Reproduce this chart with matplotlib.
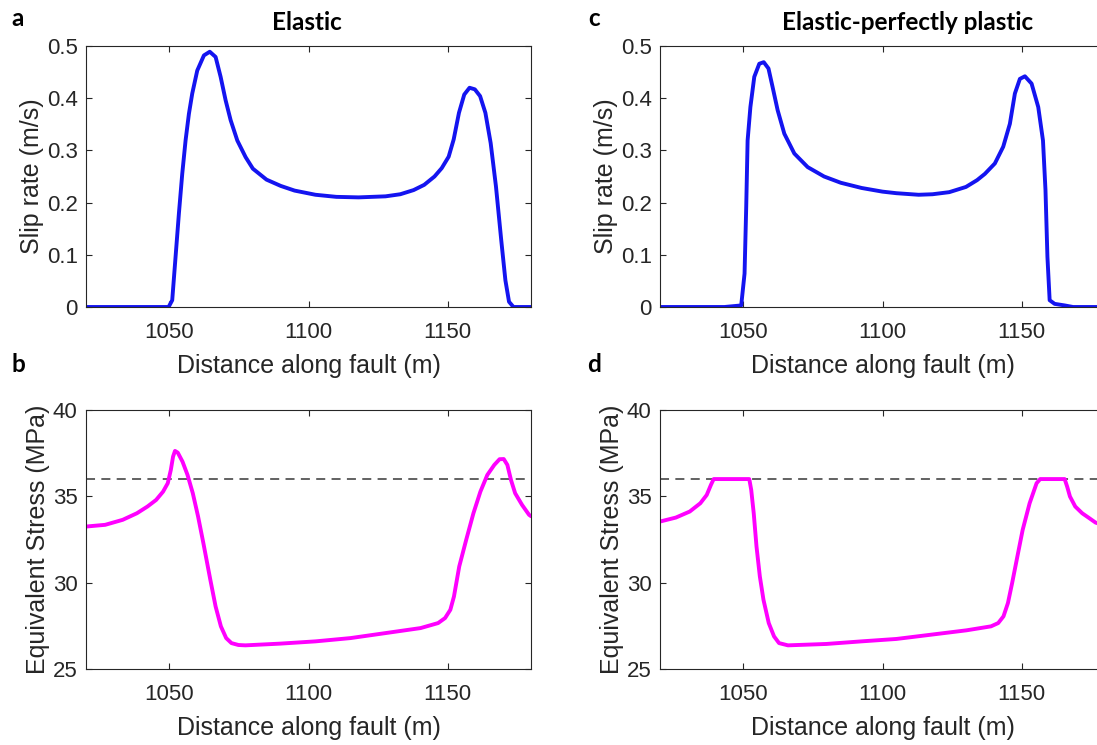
import matplotlib
matplotlib.use("Agg")
import matplotlib.pyplot as plt

# slip rate, elastic (panel a)
xa = [1020, 1043.1, 1049.7, 1051, 1052.2, 1053.4, 1054.6, 1055.8, 1057, 1058.2, 1060,
      1062.4, 1064.5, 1066.6, 1068.4, 1070.2, 1072, 1074.4, 1077.4, 1080, 1084.9, 1090,
      1095, 1102.5, 1110, 1118, 1127.7, 1133, 1137.8, 1141.6, 1145.3, 1147.9, 1150.4,
      1152.2, 1154.1, 1156, 1157.9, 1159.8, 1161.7, 1163.6, 1165.5, 1167.4, 1169.3,
      1170.8, 1172.1, 1173.7, 1180]
ya = [0, 0, 0, 0.013, 0.096, 0.179, 0.255, 0.319, 0.370, 0.409, 0.453,
      0.482, 0.489, 0.479, 0.441, 0.396, 0.358, 0.319, 0.287, 0.265, 0.244, 0.232,
      0.223, 0.215, 0.211, 0.210, 0.212, 0.216, 0.224, 0.234, 0.25, 0.266, 0.288,
      0.321, 0.372, 0.407, 0.420, 0.417, 0.404, 0.372, 0.314, 0.231, 0.128,
      0.051, 0.01, 0, 0]

# slip rate, elastic-perfectly plastic (panel c)
xc = [1020, 1043.2, 1049.2, 1050.4, 1051, 1051.5, 1052.5, 1053.9, 1055.7, 1057.3, 1059,
      1060.5, 1062.3, 1064.7, 1068.3, 1073.1, 1079, 1085, 1092.5, 1100, 1105, 1113,
      1118, 1124, 1130, 1134, 1136.8, 1140.4, 1143.4, 1145.8, 1147.6, 1149.4, 1151.2,
      1153.6, 1156, 1157.7, 1158.6, 1159.3, 1160.1, 1161.9, 1165.5, 1168.5, 1180]
yc = [0, 0, 0.003, 0.064, 0.192, 0.319, 0.383, 0.441, 0.466, 0.469, 0.457,
      0.421, 0.377, 0.332, 0.294, 0.268, 0.250, 0.238, 0.228, 0.221, 0.218, 0.215,
      0.216, 0.220, 0.230, 0.243, 0.255, 0.275, 0.307, 0.351, 0.409, 0.437, 0.442,
      0.428, 0.383, 0.319, 0.224, 0.096, 0.013, 0.006, 0.003, 0, 0]

# equivalent stress, elastic (panel b)
xb = [1020, 1026.9, 1033.2, 1038.3, 1042.1, 1045.2, 1047.7, 1049.4, 1050.5, 1051.3, 1052,
      1053, 1054.7, 1056.5, 1058.4, 1060.3, 1062.2, 1064.7, 1066.6, 1068.5, 1070.4,
      1072.3, 1074.8, 1077.3, 1089.9, 1102.5, 1115.1, 1127.7, 1140.3, 1146.6, 1149.1,
      1151, 1152.3, 1154.2, 1156.7, 1159.3, 1161.8, 1164.3, 1166.8, 1168.7, 1170.2,
      1171.5, 1172.8, 1174.3, 1176.8, 1179.3, 1180]
yb = [33.25, 33.35, 33.64, 34.02, 34.41, 34.79, 35.27, 35.76, 36.53, 37.3, 37.63,
      37.53, 37.01, 36.24, 35.18, 33.83, 32.29, 30.17, 28.62, 27.47, 26.79,
      26.5, 26.39, 26.37, 26.47, 26.6, 26.79, 27.08, 27.37, 27.66, 27.95,
      28.43, 29.2, 30.94, 32.48, 34.02, 35.27, 36.24, 36.82, 37.15, 37.16,
      36.82, 35.95, 35.18, 34.5, 33.93, 33.85]

# equivalent stress, elastic-perfectly plastic (panel d)
xd = [1020, 1025.7, 1030.7, 1034.5, 1036.8, 1038.3, 1039.3, 1052.1, 1052.8, 1053.7, 1054.7,
      1055.9, 1057.2, 1059.1, 1061, 1062.8, 1066, 1079.8, 1092.4, 1105, 1117.6, 1130.2,
      1139, 1141.6, 1143.5, 1145.1, 1146.6, 1148.5, 1150.4, 1152.9, 1155.4, 1156.7,
      1165.5, 1166.4, 1167.4, 1169.3, 1171.8, 1174.4, 1176.6, 1180]
yd = [33.54, 33.77, 34.12, 34.6, 35.08, 35.66, 36.0, 36.0, 35.37, 34.02, 32.09,
      30.36, 29.01, 27.66, 26.89, 26.5, 26.37, 26.45, 26.6, 26.74, 26.99, 27.24,
      27.47, 27.66, 28.05, 28.82, 29.97, 31.52, 33.06, 34.6, 35.76, 36.0,
      36.0, 35.56, 34.99, 34.41, 34.02, 33.73, 33.48, 33.3]

yield_stress = 36
xlim = (1020, 1180)
xticks = [1050, 1100, 1150]

W, H = 1097, 745
fig = plt.figure(figsize=(W / 100, H / 100), dpi=100)
plt.rcParams['font.family'] = ['Liberation Sans', 'DejaVu Sans']
text_color = '#262626'


def make_ax(left, top, bottom, width=445):
    return fig.add_axes([left / W, (H - bottom) / H, width / W, (bottom - top) / H])


def style(ax):
    ax.set_xlim(*xlim)
    ax.set_xticks(xticks)
    for s in ax.spines.values():
        s.set_color(text_color)
        s.set_linewidth(0.8)
    ax.tick_params(direction='in', length=4, width=0.8, top=True, right=True,
                   labelsize=16, colors=text_color)
    ax.tick_params(axis='x', pad=11)
    ax.tick_params(axis='y', pad=6)
    ax.set_xlabel('Distance along fault (m)', fontsize=18, color=text_color, labelpad=8)


ax_a = make_ax(86, 46, 307)
ax_b = make_ax(86, 410, 669)
ax_c = make_ax(660, 46, 307)
ax_d = make_ax(660, 410, 669)

for ax, x, y in [(ax_a, xa, ya), (ax_c, xc, yc)]:
    ax.plot(x, y, color='#1414f0', lw=2.8, solid_capstyle='round', solid_joinstyle='round')
    style(ax)
    ax.set_ylim(0, 0.5)
    ax.set_yticks([0, 0.1, 0.2, 0.3, 0.4, 0.5])
    ax.set_yticklabels(['0', '0.1', '0.2', '0.3', '0.4', '0.5'])
    ax.set_ylabel('Slip rate (m/s)', fontsize=18, color=text_color, labelpad=2)

for ax, x, y in [(ax_b, xb, yb), (ax_d, xd, yd)]:
    ax.plot(xlim, [yield_stress, yield_stress], color='#555555', lw=1.3, dashes=[5, 3.5])
    ax.plot(x, y, color='#ff00ff', lw=2.8, solid_capstyle='round', solid_joinstyle='round')
    style(ax)
    ax.set_ylim(25, 40)
    ax.set_yticks([25, 30, 35, 40])
    ax.set_ylabel('Equivalent Stress (MPa)', fontsize=18, color=text_color, labelpad=2)

title_font = dict(family=['Lato', 'DejaVu Sans'], fontweight='bold', fontsize=17.5)
fig.text(307 / W, 1 - 23 / H, 'Elastic', ha='center', va='center', **title_font)
fig.text(908 / W, 1 - 23 / H, 'Elastic-perfectly plastic', ha='center', va='center', **title_font)

label_font = dict(family=['Lato', 'DejaVu Sans'], fontweight='bold', fontsize=17.5)
for lbl, px, py in [('a', 18, 18), ('b', 18, 364), ('c', 594, 18), ('d', 594, 364)]:
    fig.text(px / W, 1 - py / H, lbl, ha='center', va='center', **label_font)

fig.savefig('out.png', dpi=100)
